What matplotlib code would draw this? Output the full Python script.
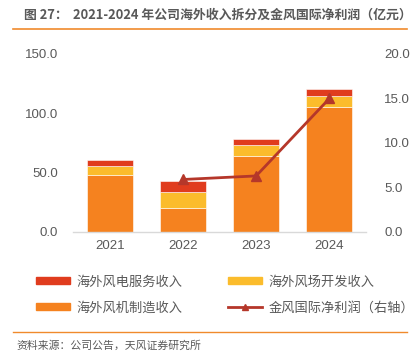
import matplotlib
matplotlib.use("Agg")
import matplotlib.pyplot as plt
from matplotlib.lines import Line2D
from matplotlib.patches import Patch

plt.rcParams['font.family'] = ['Liberation Sans', 'Noto Sans CJK SC', 'DejaVu Sans']

years = ['2021', '2022', '2023', '2024']
manufacturing = [47.7, 20.1, 63.8, 105.1]   # 海外风机制造收入
development = [8.2, 13.2, 9.6, 9.6]         # 海外风场开发收入
service = [5.1, 9.3, 5.1, 5.6]              # 海外风电服务收入
profit_years = ['2022', '2023', '2024']
net_profit = [5.9, 6.3, 15.0]               # 金风国际净利润（右轴）

c_service = '#E03C1E'
c_dev = '#FBBC2C'
c_manu = '#F5821F'
c_line = '#B5372A'
c_text = '#595959'

fig = plt.figure(figsize=(4.19, 3.61), dpi=100)
ax = fig.add_axes([73/419, 1-232/361, (366-73)/419, (232-54)/361])

x = list(range(len(years)))
w = 0.63
bottom2 = [a + b for a, b in zip(manufacturing, development)]
ax.bar(x, manufacturing, w, color=c_manu, edgecolor='white', linewidth=0.4, zorder=2)
ax.bar(x, development, w, bottom=manufacturing, color=c_dev, edgecolor='white', linewidth=0.4, zorder=2)
ax.bar(x, service, w, bottom=bottom2, color=c_service, edgecolor='white', linewidth=0.4, zorder=2)

ax.set_xlim(-0.5, 3.5)
ax.set_ylim(0, 150)
ax.set_yticks([0, 50, 100, 150])
ax.set_yticklabels(['0.0', '50.0', '100.0', '150.0'])
ax.set_xticks(x)
ax.set_xticklabels(years)
for s in ['top', 'right', 'left']:
    ax.spines[s].set_visible(False)
ax.spines['bottom'].set_color('#D9D9D9')
ax.spines['bottom'].set_linewidth(1.0)
ax.tick_params(axis='y', length=0, pad=11, labelsize=9.5, labelcolor=c_text)
ax.tick_params(axis='x', length=0, pad=6, labelsize=9.5, labelcolor=c_text)

ax2 = ax.twinx()
px = [years.index(y) for y in profit_years]
ax2.plot(px, net_profit, color=c_line, linewidth=2, marker='^', markersize=7, zorder=3)
ax2.set_ylim(0, 20)
ax2.set_yticks([0, 5, 10, 15, 20])
ax2.set_yticklabels(['0.0', '5.0', '10.0', '15.0', '20.0'])
for s in ['top', 'right', 'left', 'bottom']:
    ax2.spines[s].set_visible(False)
ax2.tick_params(axis='y', length=0, pad=13, labelsize=9.5, labelcolor=c_text)

# Title
fig.text(24/419, 1-15/361, '图 27：', fontsize=9.3, fontweight='bold', color=c_text,
         va='center', ha='left', family=['Noto Sans CJK SC'])
fig.text(73/419, 1-15/361, '2021-2024 年公司海外收入拆分及金风国际净利润（亿元）', fontsize=9.3,
         fontweight='bold', color=c_text, va='center', ha='left', family=['Noto Sans CJK SC'])
fig.add_artist(Line2D([13/419, 407/419], [1-29/361, 1-29/361], color='#F08A2C', linewidth=1.2))

# Legend (column-major order so rows read: service | dev ; manu | line)
handles = [Patch(color=c_service), Patch(color=c_manu), Patch(color=c_dev),
           Line2D([0], [0], color=c_line, linewidth=2, marker='^', markersize=4)]
labels = ['海外风电服务收入', '海外风机制造收入', '海外风场开发收入', '金风国际净利润（右轴）']
leg = fig.legend(handles, labels, ncol=2, loc='center left', bbox_to_anchor=(24/419, 1-295/361),
                 frameon=False, prop={'family': ['Noto Sans CJK SC'], 'size': 9.5},
                 handlelength=2.6, handleheight=0.45, columnspacing=3.4, labelspacing=1.0,
                 handletextpad=0.5)
for t in leg.get_texts():
    t.set_color(c_text)

fig.add_artist(Line2D([13/419, 407/419], [1-332/361, 1-332/361], color='#F08A2C', linewidth=1.0))
fig.text(16/419, 1-346/361, '资料来源：公司公告，天风证券研究所', fontsize=7.8, color=c_text,
         va='center', ha='left', family=['Noto Sans CJK SC'])

fig.savefig('out.png', dpi=100)
